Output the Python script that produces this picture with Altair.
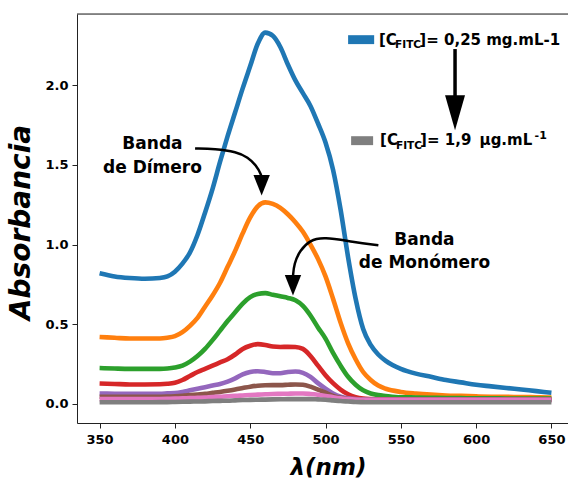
import altair as alt
import pandas as pd

# ---------------- data ----------------
wavelength = [350, 360, 370, 380, 390, 395, 400, 405, 410, 415, 420, 425, 430, 435, 440,
              445, 450, 455, 460, 465, 470, 475, 480, 485, 490, 495, 500, 505, 510, 515,
              520, 525, 530, 535, 540, 550, 560, 570, 580, 590, 600, 610, 620, 630, 640, 650]

blue = [0.82, 0.80, 0.79, 0.785, 0.79, 0.80, 0.83, 0.88, 0.95, 1.06, 1.20, 1.35, 1.52, 1.68, 1.83,
        1.98, 2.12, 2.26, 2.33, 2.31, 2.24, 2.13, 2.03, 1.95, 1.87, 1.76, 1.64, 1.47, 1.22, 0.92,
        0.66, 0.47, 0.37, 0.31, 0.27, 0.22, 0.19, 0.17, 0.15, 0.135, 0.12, 0.11, 0.10, 0.09, 0.08, 0.07]
orange = [0.42, 0.415, 0.41, 0.41, 0.41, 0.415, 0.425, 0.45, 0.49, 0.54, 0.61, 0.68, 0.76, 0.86, 0.96,
          1.07, 1.17, 1.24, 1.265, 1.255, 1.23, 1.19, 1.14, 1.08, 1.00, 0.91, 0.80, 0.66, 0.51, 0.38,
          0.28, 0.20, 0.15, 0.115, 0.095, 0.075, 0.065, 0.058, 0.053, 0.05, 0.047, 0.045, 0.044, 0.043, 0.042, 0.04]
green = [0.225, 0.222, 0.22, 0.22, 0.22, 0.222, 0.228, 0.24, 0.265, 0.30, 0.345, 0.40, 0.46, 0.52, 0.575,
         0.63, 0.67, 0.69, 0.695, 0.685, 0.675, 0.665, 0.65, 0.615, 0.555, 0.48, 0.41, 0.32, 0.24, 0.17,
         0.12, 0.085, 0.065, 0.055, 0.05, 0.042, 0.04, 0.038, 0.037, 0.036, 0.035, 0.035, 0.034, 0.034, 0.033, 0.033]
red = [0.128, 0.125, 0.122, 0.122, 0.123, 0.126, 0.133, 0.15, 0.175, 0.20, 0.22, 0.24, 0.26, 0.28, 0.31,
       0.345, 0.365, 0.375, 0.37, 0.36, 0.357, 0.358, 0.357, 0.345, 0.30, 0.24, 0.18, 0.13, 0.09, 0.06,
       0.042, 0.033, 0.03, 0.029, 0.028, 0.028, 0.027, 0.027, 0.027, 0.027, 0.027, 0.027, 0.027, 0.027, 0.027, 0.027]
purple = [0.065, 0.064, 0.063, 0.063, 0.064, 0.066, 0.068, 0.075, 0.085, 0.095, 0.105, 0.115, 0.125, 0.14, 0.16,
          0.185, 0.20, 0.205, 0.20, 0.192, 0.192, 0.20, 0.203, 0.195, 0.17, 0.13, 0.095, 0.065, 0.045, 0.035,
          0.03, 0.028, 0.027, 0.026, 0.026, 0.025, 0.025, 0.025, 0.025, 0.025, 0.025, 0.025, 0.025, 0.025, 0.025, 0.025]
brown = [0.045, 0.045, 0.044, 0.044, 0.045, 0.046, 0.048, 0.051, 0.055, 0.059, 0.063, 0.069, 0.075, 0.082, 0.09,
         0.099, 0.108, 0.114, 0.117, 0.118, 0.118, 0.12, 0.122, 0.12, 0.108, 0.09, 0.07, 0.05, 0.038, 0.031,
         0.028, 0.026, 0.025, 0.024, 0.024, 0.024, 0.024, 0.024, 0.024, 0.024, 0.024, 0.024, 0.024, 0.024, 0.024, 0.024]
pink = [0.03, 0.03, 0.03, 0.03, 0.031, 0.032, 0.033, 0.035, 0.036, 0.038, 0.04, 0.043, 0.045, 0.048, 0.05,
        0.053, 0.056, 0.058, 0.06, 0.062, 0.063, 0.064, 0.065, 0.065, 0.062, 0.057, 0.05, 0.042, 0.035, 0.03,
        0.027, 0.026, 0.025, 0.025, 0.025, 0.025, 0.025, 0.025, 0.025, 0.025, 0.025, 0.025, 0.025, 0.025, 0.025, 0.025]
gray = [0.01, 0.01, 0.01, 0.01, 0.011, 0.011, 0.012, 0.013, 0.014, 0.015, 0.016, 0.018, 0.019, 0.02, 0.022,
        0.024, 0.025, 0.026, 0.027, 0.028, 0.029, 0.03, 0.03, 0.03, 0.03, 0.028, 0.026, 0.022, 0.018, 0.015,
        0.012, 0.011, 0.01, 0.01, 0.01, 0.01, 0.01, 0.01, 0.01, 0.01, 0.01, 0.01, 0.01, 0.01, 0.01, 0.01]

series_names = ["s1", "s2", "s3", "s4", "s5", "s6", "s7", "s8"]
series_values = [blue, orange, green, red, purple, brown, pink, gray]
series_colors = ["#1f77b4", "#ff7f0e", "#2ca02c", "#d62728", "#9467bd", "#8c564b", "#e377c2", "#7f7f7f"]

x_ticks = [350, 400, 450, 500, 550, 600, 650]
y_ticks = [0.0, 0.5, 1.0, 1.5, 2.0]

# annotation paths (data units: nm, absorbance)
dimero_path_wl = [413.4, 426.6, 441.0, 448.5, 453.9, 457.6, 457.6]
dimero_path_abs = [1.603, 1.602, 1.582, 1.548, 1.498, 1.435, 1.41]
dimero_head = (457.6, 1.372)
mono_path_wl = [535.1, 518.5, 498.5, 489.7, 483.1, 479.1, 478.4]
mono_path_abs = [0.996, 1.016, 1.048, 1.027, 0.964, 0.881, 0.80]
mono_head = (478.4, 0.744)
conc_arrow_wl = [586.0, 586.0]
conc_arrow_abs = [2.227, 1.90]
conc_head = (586.0, 1.828)

labels_text = ["Banda", "de Dímero", "Banda", "de Monómero"]
labels_wl = [385.1, 385.1, 565.7, 565.7]
labels_abs = [1.599, 1.448, 0.996, 0.851]

# ---------------- build ----------------
rows = []
for name, vals in zip(series_names, series_values):
    for w, v in zip(wavelength, vals):
        rows.append({"wl": w, "abs": v, "serie": name})
df = pd.DataFrame(rows)

W, H = 491, 409
xscale = alt.Scale(domain=[335, 661], nice=False, zero=False)
yscale = alt.Scale(domain=[-0.12, 2.447], nice=False, zero=False)
FONT = "DejaVu Sans"

xaxis = alt.Axis(values=x_ticks, title="λ(nm)", grid=False, labelFont=FONT, labelFontWeight="bold",
                 labelFontSize=13, labelColor="black", tickColor="#222", domainColor="#222",
                 tickSize=5, labelPadding=5, titleFont=FONT, titleFontSize=23, titleFontWeight="bold",
                 titleFontStyle="italic", titleColor="black", titlePadding=10, titleX=251,
                 labelFlush=False)
yaxis = alt.Axis(values=y_ticks, format=".1f", title="Absorbancia", grid=False, labelFont=FONT,
                 labelFontWeight="bold", labelFontSize=13, labelColor="black", tickColor="#222",
                 domainColor="#222", tickSize=5, labelPadding=4, titleFont=FONT, titleFontSize=28,
                 titleFontWeight="bold", titleFontStyle="italic", titleColor="black", titlePadding=9,
                 titleY=208)

X = lambda f="wl": alt.X(f"{f}:Q", scale=xscale, axis=xaxis)
Y = lambda f="abs": alt.Y(f"{f}:Q", scale=yscale, axis=yaxis)

lines = alt.Chart(df).mark_line(strokeWidth=4.6, interpolate="monotone").encode(
    x=X(), y=Y(),
    color=alt.Color("serie:N", scale=alt.Scale(domain=series_names, range=series_colors), legend=None),
)

top_spine = alt.Chart(pd.DataFrame({"a": [0]})).mark_rule(color="#222", strokeWidth=1).encode(
    x=alt.value(0), x2=alt.value(W), y=alt.value(0))

def path_layer(wls, abss, width):
    d = pd.DataFrame({"wl": wls, "abs": abss, "o": list(range(len(wls)))})
    return alt.Chart(d).mark_line(color="black", strokeWidth=width, interpolate="basis").encode(
        x=X(), y=Y(), order="o:Q")

def head_layer(pt, path, size, angle=0):
    d = pd.DataFrame({"wl": [pt[0]], "abs": [pt[1]]})
    return alt.Chart(d).mark_point(shape=path, filled=True, color="black", size=size, opacity=1,
                                   strokeWidth=0, angle=angle).encode(x=X(), y=Y())

curved_head = "M-0.8,-1L0.8,-1L0,1Z"
long_head = "M-0.57,-1L0.57,-1L0,1Z"

arrows = [
    path_layer(dimero_path_wl, dimero_path_abs, 2.5),
    head_layer(dimero_head, curved_head, 420),
    path_layer(mono_path_wl, mono_path_abs, 2.5),
    head_layer(mono_head, curved_head, 420),
    path_layer(conc_arrow_wl, conc_arrow_abs, 3.5),
    head_layer(conc_head, long_head, 1225),
]

lab_df = pd.DataFrame({"wl": labels_wl, "abs": labels_abs, "t": labels_text})
labels = alt.Chart(lab_df).mark_text(font=FONT, fontWeight="bold", fontSize=17, color="black",
                                     align="center", baseline="alphabetic").encode(x=X(), y=Y(), text="t:N")

# legend-like annotation
sw_df = pd.DataFrame({"wl": [515.0, 517.0], "wl2": [532.3, 531.6], "abs": [2.314, 1.680],
                      "abs2": [2.258, 1.624], "c": ["#1f77b4", "#7f7f7f"]})
swatches = alt.Chart(sw_df).mark_rect().encode(
    x=X(), x2="wl2:Q", y=Y(), y2="abs2:Q", color=alt.Color("c:N", scale=None))

def txt(t, wl, ab, size):
    d = pd.DataFrame({"wl": [wl], "abs": [ab], "t": [t]})
    return alt.Chart(d).mark_text(font=FONT, fontWeight="bold", fontSize=size, color="black",
                                  align="left", baseline="alphabetic").encode(x=X(), y=Y(), text="t:N")

legend_txt = [
    txt("[C", 535.5, 2.252, 15), txt("FITC", 546.2, 2.236, 10.5), txt("]= 0,25 mg.mL-1", 562.3, 2.252, 15),
    txt("[C", 536.2, 1.627, 15), txt("FITC", 546.8, 1.602, 10.5), txt("]= 1,9", 562.8, 1.627, 15),
    txt("µg.mL", 602.3, 1.627, 15),
    txt("-1", 638.8, 1.662, 11),
]

chart = alt.layer(lines, top_spine, *arrows, labels, swatches, *legend_txt).properties(
    width=W, height=H,
    padding={"left": 77, "top": 14, "right": 0, "bottom": 58},
    autosize=alt.AutoSizeParams(type="none"),
).configure_view(stroke=None).configure(background="white")

chart.save("out.html", embed_options={"renderer": "svg", "actions": False})
